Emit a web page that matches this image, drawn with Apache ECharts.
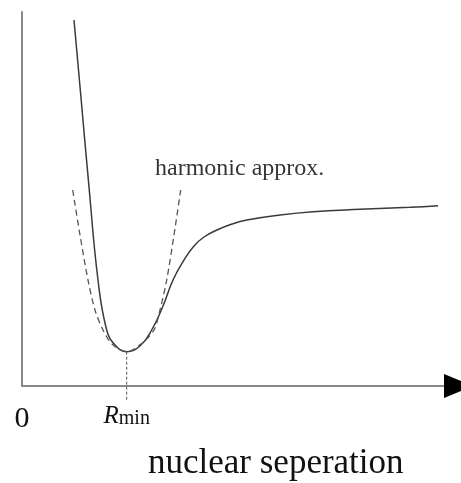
<!DOCTYPE html>
<html>
<head>
<meta charset="utf-8">
<script src="https://cdn.jsdelivr.net/npm/echarts@6/dist/echarts.min.js"></script>
<style>html,body{margin:0;padding:0;background:#fff;}#c{width:461px;height:483px;}</style>
</head>
<body>
<div id="c"></div>
<script>
// Potential curve (solid)
var potentialX = [52, 59.2, 67, 76, 84.7, 93, 104.7, 118, 129.7, 141, 151, 162, 172, 182, 195, 210, 224.7, 258, 291, 338, 388, 416];
var potentialY = [366, 286, 199, 106, 56, 41, 34.3, 40, 56, 80, 106, 126, 140, 149, 156, 162, 166, 171, 174.3, 176.7, 178.7, 180.3];
// Harmonic approximation (dashed)
var harmonicX = [50.7, 58, 66, 73, 81, 90, 104.7, 119, 132, 138, 144.7, 152, 158.7];
var harmonicY = [196, 151, 106, 76, 56, 42, 34.3, 42, 56, 76, 106, 151, 196];
// Minimum position and its drop line
var rMinX = 104.7;
var rMinLineY = [34.3, -14];
// Axis tick values and labels
var tickValues = [0, 104.7];
var tickLabels = ['0', 'R_min'];
// Text annotations
var annotationText = 'harmonic approx.';
var annotationPos = [133, 217.5];
var xTitle = 'nuclear seperation';

function pairs(xs, ys) { return xs.map(function (x, i) { return [x, ys[i]]; }); }

var chart = echarts.init(document.getElementById('c'), null, { renderer: 'canvas' });
var serif = 'Liberation Serif';
chart.setOption({
  animation: false,
  backgroundColor: '#ffffff',
  title: {
    text: xTitle,
    left: 143, top: 441,
    textStyle: { fontFamily: serif, fontSize: 35, fontWeight: 'normal', color: '#111' }
  },
  grid: { left: 22, right: 16, top: 12, bottom: 97 },
  xAxis: [{
    type: 'value', min: 0, max: 423,
    axisLine: {
      show: true, onZero: false,
      lineStyle: { color: '#888', width: 2 }
    },
    axisTick: { show: false },
    splitLine: { show: false },
    axisLabel: {
      show: true,
      customValues: tickValues,
      margin: 18,
      fontFamily: serif,
      color: '#111',
      fontSize: 30,
      formatter: function (v) {
        var idx = tickValues.indexOf(v);
        var t = tickLabels[idx];
        if (t === 'R_min') return '{r|R}{s|min}';
        return t;
      },
      rich: {
        r: { fontFamily: serif, fontStyle: 'italic', fontSize: 25, color: '#111', padding: [0, 0, 5, 0] },
        s: { fontFamily: serif, fontSize: 20, color: '#111' }
      }
    }
  }, {
    type: 'value', min: 0, max: 423, position: 'bottom',
    axisLine: {
      show: true, onZero: false,
      lineStyle: { color: '#000', width: 0 },
      symbol: ['none', 'triangle'],
      symbolSize: [24, 29],
      symbolOffset: [0, 13.5]
    },
    axisTick: { show: false },
    axisLabel: { show: false },
    splitLine: { show: false }
  }],
  yAxis: {
    type: 'value', min: 0, max: 374,
    axisLine: { show: true, onZero: false, lineStyle: { color: '#888', width: 2 } },
    axisTick: { show: false },
    axisLabel: { show: false },
    splitLine: { show: false }
  },
  series: [
    {
      type: 'line', data: pairs(potentialX, potentialY),
      smooth: 0.45, showSymbol: false,
      lineStyle: { color: '#3a3a3a', width: 1.5 }
    },
    {
      type: 'line', data: pairs(harmonicX, harmonicY),
      smooth: 0.3, showSymbol: false,
      lineStyle: { color: '#555', width: 1.3, type: [6, 4] }
    },
    {
      type: 'line', clip: false,
      data: rMinLineY.map(function (y) { return [rMinX, y]; }),
      showSymbol: false,
      lineStyle: { color: '#555', width: 1, type: [3, 2] }
    },
    {
      type: 'scatter', symbolSize: 0,
      data: [annotationPos],
      label: {
        show: true, position: 'right', distance: 0,
        formatter: annotationText,
        fontFamily: serif, fontSize: 24, color: '#000'
      }
    }
  ]
});
</script>
</body>
</html>
